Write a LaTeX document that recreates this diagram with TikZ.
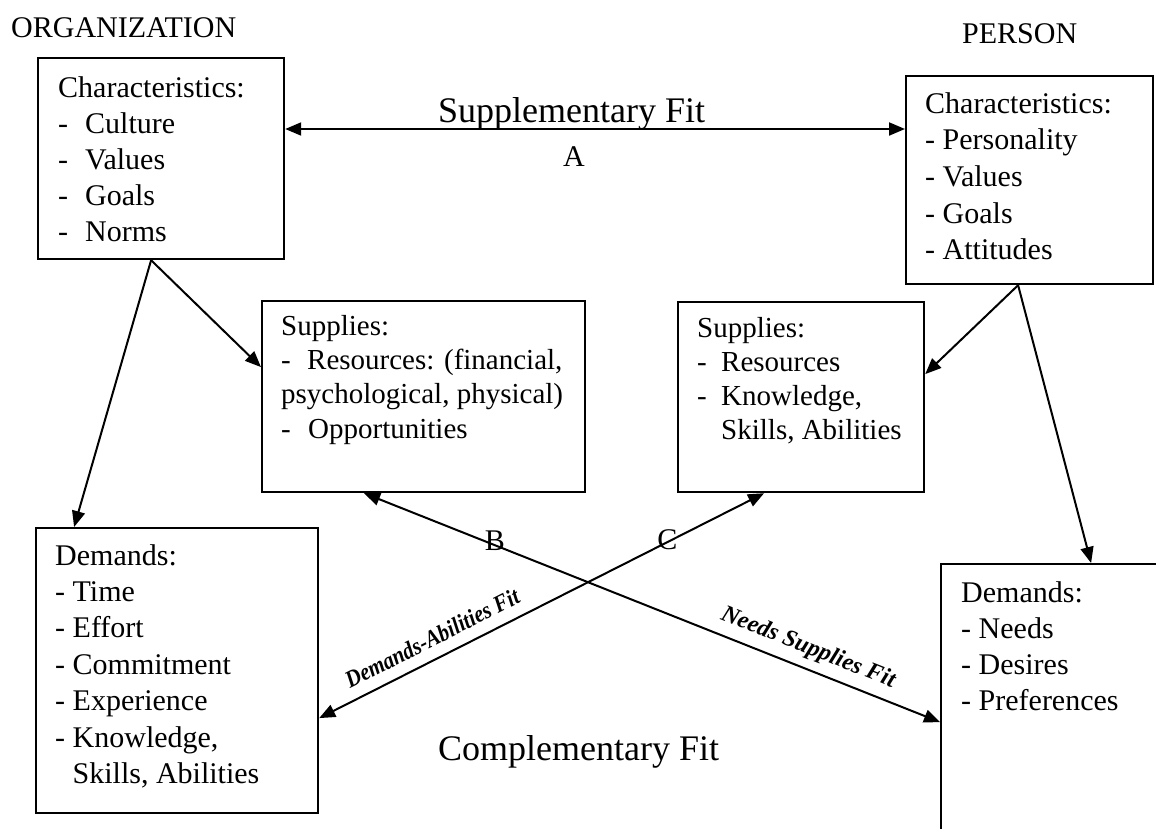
\documentclass[tikz,border=0pt]{standalone}
\usepackage{fontspec}
\setmainfont{Liberation Serif}
\usetikzlibrary{arrows.meta,positioning,calc}
\newcommand{\dashto}[1]{\makebox[#1][l]{-}}
\tikzset{
  panel/.style={draw, line width=2.2pt, inner sep=0pt, anchor=north west},
  item/.style={font=\fontsize{30}{36}\selectfont, inner sep=0pt, anchor=base west},
  supitem/.style={item, font=\fontsize{29}{35}\selectfont},
  caphead/.style={font=\fontsize{30}{36}\selectfont, inner sep=0pt, anchor=base west},
  fitname/.style={font=\fontsize{36}{40}\selectfont, inner sep=0pt, anchor=base west},
  letter/.style={font=\fontsize{30}{36}\selectfont, inner sep=0pt},
  slant/.style={font=\bfseries\itshape\fontsize{24}{28}\selectfont, inner sep=0pt},
  link/.style={-{Triangle[length=16pt,width=13pt]}, line width=2pt},
  twoway/.style={{Triangle[length=16pt,width=13pt]}-{Triangle[length=16pt,width=13pt]}, line width=2pt},
}
\begin{document}
\begin{tikzpicture}[x=1pt,y=-1pt]
  \useasboundingbox (0,0) rectangle (1156,828);
  \clip (0,0) rectangle (1156,828);
  % headings
  \node[caphead] (orghead) at (11,37) {ORGANIZATION};
  \node[caphead] (pershead) at (962,43) {PERSON};
  % boxes
  \node[panel, minimum width=246, minimum height=201] (orgchar) at (37,57) {};
  \node[panel, minimum width=247, minimum height=208] (perschar) at (905,75) {};
  \node[panel, minimum width=323, minimum height=191] (orgsup) at (261,300) {};
  \node[panel, minimum width=246, minimum height=190] (perssup) at (677,301) {};
  \node[panel, minimum width=282, minimum height=285] (orgdem) at (35,527) {};
  \node[panel, minimum width=260, minimum height=300] (persdem) at (940,563) {};
  % box texts
  \foreach \t [count=\i from 0] in {Characteristics:, \dashto{27pt}Culture,
      \dashto{27pt}Values, \dashto{27pt}Goals, \dashto{27pt}Norms}
    \node[item] (oc\i) at (58,{97+36*\i}) {\t};
  \foreach \t [count=\i from 0] in {Characteristics:, - Personality, - Values,
      - Goals, - Attitudes}
    \node[item] (pc\i) at (925,{113+36.7*\i}) {\t};
  \foreach \t [count=\i from 0] in {Supplies:, {\dashto{26pt}Resources: (financial,},
      {psychological, physical)}, \dashto{27pt}Opportunities}
    \node[supitem] (os\i) at (281,{335+34.4*\i}) {\t};
  \foreach \t [count=\i from 0] in {Supplies:, \dashto{24pt}Resources,
      {\dashto{24pt}Knowledge,}, {\hspace{24pt}Skills, Abilities}}
    \node[supitem] (ps\i) at (697,{337+34*\i}) {\t};
  \foreach \t [count=\i from 0] in {Demands:, - Time, - Effort, - Commitment,
      - Experience, {- Knowledge,}, {\hspace{17.5pt}Skills, Abilities}}
    \node[item] (od\i) at (55,{565+36.4*\i}) {\t};
  \foreach \t [count=\i from 0] in {Demands:, - Needs, - Desires, - Preferences}
    \node[item] (pd\i) at (961,{602+36.3*\i}) {\t};
  % supplementary fit
  \draw[twoway] (orgchar.east |- 0,129) -- (perschar.west |- 0,129);
  \node[fitname] (supfit) at (438,122) {Supplementary Fit};
  \node[letter] (fitA) at (574,157) {A};
  % characteristics feed supplies and demands
  \draw[link] ([xshift=-10pt]orgchar.south) -- ([xshift=-103pt]orgdem.north);
  \draw[link] ([xshift=-10pt]orgchar.south) -- ([yshift=29.5pt]orgsup.west);
  \draw[link] ([xshift=-11.5pt]perschar.south) -- ([yshift=23pt]perssup.east);
  \draw[link] ([xshift=-11.5pt]perschar.south) -- ([xshift=20pt]persdem.north);
  % complementary fit
  \draw[twoway] ([xshift=-59.5pt]orgsup.south) -- ([yshift=-8pt]persdem.west)
    node[letter, pos=0.227, yshift=4pt] (fitB) {B};
  \draw[twoway] ([xshift=-37pt]perssup.south) -- ([yshift=-47.5pt]orgdem.east)
    node[letter, pos=0.2175, yshift=2pt] (fitC) {C};
  \node[slant, rotate=26.9] (dafit) at (432,638) {\scalebox{0.88}[1]{Demands-Abilities Fit}};
  \node[slant, rotate=-21.7] (nsfit) at (808,648) {Needs Supplies Fit};
  \node[fitname] (compfit) at (438,760) {Complementary Fit};
\end{tikzpicture}
\end{document}
